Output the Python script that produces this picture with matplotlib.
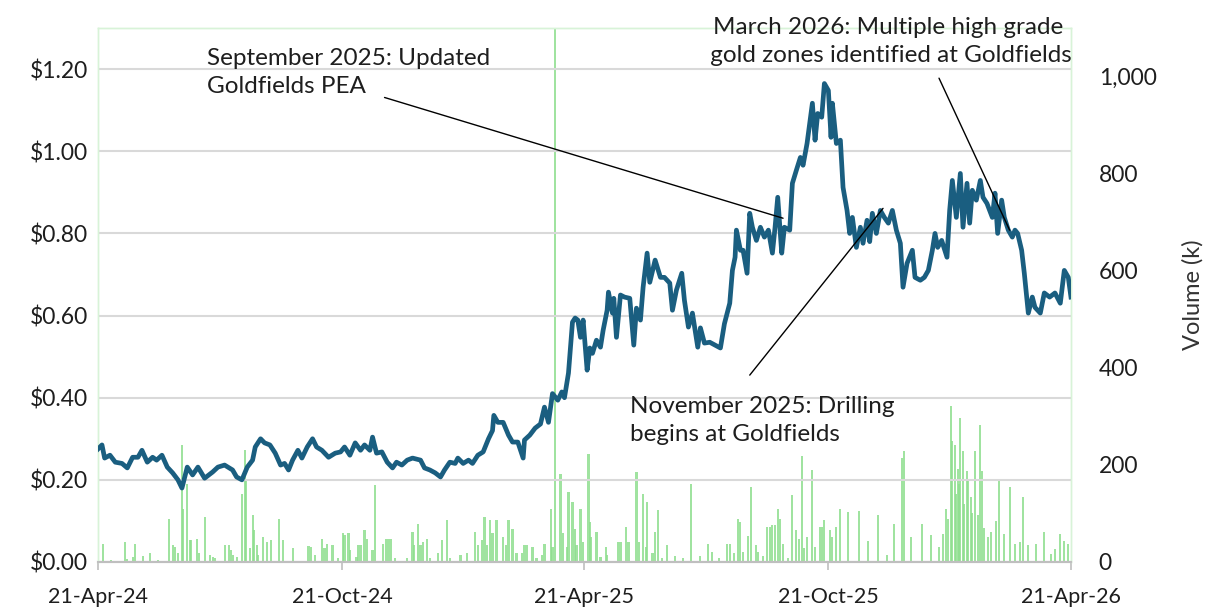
import matplotlib
matplotlib.use("Agg")
import matplotlib.pyplot as plt
import matplotlib.dates as mdates
import matplotlib.ticker as mticker
import pandas as pd
import numpy as np

plt.rcParams['font.family'] = ['Lato', 'DejaVu Sans']

START = pd.Timestamp("2024-04-21")
END = pd.Timestamp("2026-04-21")

# Share price: days since 21-Apr-24 and price ($)
price_days = [0, 3, 5, 9, 13, 18, 22, 26, 30, 33, 37, 41, 44, 48, 52, 56, 60, 63, 67, 71,
              75, 80, 86, 90, 95, 101, 104, 108, 112, 116, 118, 122, 125, 129, 133, 137, 140, 143, 146, 150,
              153, 157, 161, 164, 168, 173, 178, 182, 185, 189, 193, 197, 200, 204, 206, 209, 213, 217, 221, 224,
              228, 232, 236, 242, 245, 249, 253, 257, 260, 264, 268, 270, 274, 278, 281, 285, 289, 293, 296, 297,
              300, 304, 308, 311, 315, 319, 320, 324, 328, 332, 335, 338, 341, 345, 348, 350, 353, 356, 358, 360,
              362, 364, 367, 369, 371, 374, 377, 379, 382, 383, 386, 387, 389, 392, 395, 399, 402, 404, 407, 409,
              412, 414, 418, 422, 425, 429, 431, 434, 438, 440, 443, 446, 448, 450, 452, 455, 459, 463, 467, 470,
              474, 476, 478, 479, 482, 484, 487, 489, 491, 494, 497, 500, 503, 506, 508, 510, 513, 515, 519, 521,
              524, 527, 529, 532, 536, 538, 540, 543, 545, 548, 550, 551, 554, 557, 559, 562, 564, 566, 569, 572,
              574, 577, 579, 581, 584, 587, 590, 593, 596, 599, 602, 604, 607, 611, 613, 617, 620, 623, 626, 628,
              630, 633, 637, 639, 641, 644, 647, 649, 652, 654, 656, 659, 662, 664, 667, 671, 673, 675, 678, 680,
              683, 686, 688, 690, 693, 695, 698, 701, 703, 707, 710, 714, 718, 722, 725, 728, 730]
price = [0.275, 0.285, 0.253, 0.260, 0.243, 0.240, 0.229, 0.255, 0.255, 0.272, 0.243, 0.255, 0.248, 0.260, 0.231, 0.217, 0.200, 0.180, 0.231, 0.212,
         0.231, 0.204, 0.219, 0.231, 0.236, 0.224, 0.207, 0.200, 0.231, 0.248, 0.280, 0.300, 0.290, 0.285, 0.265, 0.236, 0.240, 0.224, 0.248, 0.272,
         0.253, 0.280, 0.300, 0.280, 0.272, 0.255, 0.265, 0.268, 0.280, 0.260, 0.290, 0.272, 0.285, 0.272, 0.304, 0.265, 0.268, 0.243, 0.229, 0.243,
         0.236, 0.248, 0.253, 0.248, 0.229, 0.224, 0.217, 0.207, 0.224, 0.243, 0.240, 0.253, 0.240, 0.248, 0.240, 0.260, 0.268, 0.300, 0.320, 0.357,
         0.340, 0.340, 0.309, 0.292, 0.292, 0.253, 0.297, 0.309, 0.326, 0.336, 0.377, 0.340, 0.410, 0.394, 0.414, 0.400, 0.460, 0.584, 0.594, 0.589,
         0.547, 0.589, 0.467, 0.521, 0.508, 0.540, 0.523, 0.564, 0.613, 0.657, 0.606, 0.642, 0.547, 0.650, 0.645, 0.642, 0.528, 0.618, 0.589, 0.669,
         0.752, 0.681, 0.735, 0.693, 0.693, 0.679, 0.613, 0.662, 0.703, 0.637, 0.572, 0.606, 0.564, 0.523, 0.570, 0.533, 0.535, 0.528, 0.521, 0.580,
         0.630, 0.710, 0.742, 0.808, 0.759, 0.759, 0.703, 0.849, 0.815, 0.783, 0.815, 0.791, 0.808, 0.752, 0.815, 0.888, 0.752, 0.815, 0.808, 0.922,
         0.954, 0.985, 0.966, 1.019, 1.117, 1.027, 1.092, 1.083, 1.165, 1.148, 1.034, 1.117, 1.019, 1.027, 0.912, 0.856, 0.800, 0.839, 0.766, 0.815,
         0.776, 0.832, 0.780, 0.849, 0.800, 0.856, 0.839, 0.825, 0.856, 0.808, 0.776, 0.669, 0.727, 0.759, 0.693, 0.686, 0.693, 0.710, 0.759, 0.800,
         0.766, 0.783, 0.742, 0.856, 0.929, 0.839, 0.946, 0.815, 0.922, 0.825, 0.905, 0.881, 0.929, 0.888, 0.873, 0.839, 0.898, 0.800, 0.881, 0.839,
         0.808, 0.791, 0.808, 0.800, 0.759, 0.703, 0.606, 0.645, 0.620, 0.606, 0.655, 0.645, 0.655, 0.630, 0.710, 0.693, 0.645]

# Volume (thousands): days since 21-Apr-24
vol_days = [4, 10, 20, 22, 26, 28, 34, 39, 45, 53, 56, 58, 60, 63, 64, 67, 69, 70, 74, 76,
            80, 84, 86, 88, 95, 98, 100, 101, 104, 108, 110, 111, 114, 116, 117, 119, 120, 124, 127, 130,
            136, 139, 146, 158, 160, 163, 168, 170, 172, 176, 180, 184, 185, 188, 189, 194, 195, 197, 200, 202,
            206, 208, 214, 216, 218, 220, 223, 232, 236, 237, 240, 242, 244, 247, 249, 255, 258, 262, 264, 272,
            277, 283, 285, 288, 290, 292, 294, 296, 299, 304, 306, 308, 311, 314, 318, 320, 322, 326, 329, 333,
            335, 340, 341, 343, 347, 349, 352, 353, 356, 358, 359, 362, 364, 368, 369, 370, 374, 377, 381, 382,
            390, 392, 396, 398, 404, 406, 409, 411, 412, 416, 418, 420, 423, 427, 433, 439, 445, 452, 458, 461,
            466, 472, 474, 477, 480, 482, 484, 488, 490, 494, 495, 499, 502, 504, 506, 508, 510, 512, 514, 518,
            521, 524, 526, 528, 530, 532, 536, 538, 542, 543, 545, 549, 551, 554, 557, 563, 571, 578, 585, 592,
            597, 603, 605, 610, 618, 625, 631, 634, 636, 638, 640, 641, 643, 644, 645, 646, 647, 649, 650, 652,
            653, 655, 656, 658, 660, 662, 663, 665, 668, 670, 674, 676, 680, 684, 688, 692, 694, 698, 704, 710,
            715, 718, 722, 725, 728]
volume = [38, 5, 42, 7, 11, 38, 12, 18, 5, 89, 35, 31, 18, 240, 110, 160, 45, 45, 48, 18,
          93, 14, 11, 8, 35, 35, 25, 14, 11, 140, 230, 170, 28, 96, 66, 35, 14, 52, 42, 45,
          89, 45, 28, 33, 31, 14, 48, 28, 38, 35, 8, 59, 55, 59, 25, 11, 35, 35, 66, 48,
          25, 158, 38, 48, 48, 48, 8, 8, 62, 35, 79, 35, 42, 48, 8, 18, 45, 86, 8, 14,
          18, 62, 35, 45, 93, 35, 86, 59, 86, 52, 35, 86, 69, 18, 18, 35, 35, 31, 8, 14,
          38, 110, 31, 1500, 182, 59, 31, 144, 124, 69, 35, 110, 42, 223, 83, 52, 62, 11, 30, 14,
          42, 42, 72, 42, 185, 42, 141, 31, 124, 18, 62, 108, 8, 35, 12, 8, 161, 12, 37, 21,
          8, 37, 37, 18, 89, 83, 21, 53, 154, 35, 21, 12, 72, 72, 76, 76, 110, 89, 37, 8,
          137, 66, 48, 219, 28, 52, 190, 31, 72, 72, 86, 66, 52, 72, 109, 102, 106, 44, 96, 14,
          79, 215, 229, 51, 79, 55, 31, 58, 110, 89, 321, 249, 242, 140, 191, 160, 297, 229, 120, 188,
          167, 133, 100, 229, 96, 283, 188, 70, 51, 61, 85, 171, 58, 154, 38, 41, 133, 34, 38, 61,
          17, 27, 58, 44, 38]

tick_dates = ["2024-04-21", "2024-10-21", "2025-04-21", "2025-10-21", "2026-04-21"]
price_ticks = [0.0, 0.2, 0.4, 0.6, 0.8, 1.0, 1.2]
volume_ticks = [0, 200, 400, 600, 800, 1000]

price_dates = [START + pd.Timedelta(days=d) for d in price_days]
vol_dates = [START + pd.Timedelta(days=d) for d in vol_days]

TXT = "#1e1e1e"

fig = plt.figure(figsize=(12.17, 6.10), dpi=100)
ax = fig.add_axes([0.0805, 0.0787, 0.7995, 0.8753])
ax2 = ax.twinx()
ax.set_zorder(ax2.get_zorder() + 1)
ax.patch.set_visible(False)

# volume bars (right axis)
ax2.bar(vol_dates, volume, width=1.6, color="#8fdf8f", linewidth=0, alpha=0.85)
ax2.set_ylim(0, 1100)
ax2.set_yticks(volume_ticks)
ax2.yaxis.set_major_formatter(mticker.FuncFormatter(lambda v, p: f"{int(v):,}"))
ax2.tick_params(axis='y', length=0, pad=20, labelsize=16.5, labelcolor=TXT)
ax2.set_ylabel("Volume (k)", fontsize=17, color="#333333", labelpad=18)

# price line (left axis)
ax.plot(price_dates, price, color="#1a5e80", lw=3.4, solid_joinstyle='round', zorder=3)
ax.set_ylim(0, 1.30)
ax.set_yticks(price_ticks)
ax.yaxis.set_major_formatter(mticker.FuncFormatter(lambda v, p: f"${v:.2f}"))
ax.tick_params(axis='y', length=0, pad=7, labelsize=16.5, labelcolor=TXT)
ax.grid(axis='y', color="#d9d9d9", lw=1.5)
ax.set_axisbelow(True)

ax.set_xlim(START, END)
ax.set_xticks([pd.Timestamp(d) for d in tick_dates])
ax.xaxis.set_major_formatter(mdates.DateFormatter("%d-%b-%y"))
ax.tick_params(axis='x', length=6, width=1.2, color="#bfbfbf", pad=12, labelsize=15.5, labelcolor=TXT)

for a in (ax, ax2):
    for s in ("left", "right", "top"):
        a.spines[s].set_color("#d8f3d8")
        a.spines[s].set_linewidth(1)
    a.spines["bottom"].set_color("#bfbfbf")
    a.spines["bottom"].set_linewidth(1.5)

def D(days):
    return START + pd.Timedelta(days=days)

line_kw = dict(arrowstyle='-', color='black', lw=1, shrinkA=0, shrinkB=0)
txt_kw = dict(fontsize=17.5, color=TXT, linespacing=1.42)

ax.annotate("", xy=(D(514), 0.837), xytext=(D(215), 1.131), arrowprops=line_kw)
ax.text(D(82), 1.252, "September 2025: Updated\nGoldfields PEA", ha='left', va='top', **txt_kw)

ax.annotate("", xy=(D(684), 0.808), xytext=(D(631), 1.178), arrowprops=line_kw)
ax.text(D(593), 1.327, "March 2026: Multiple high grade\n gold zones identified at Goldfields",
        ha='center', va='top', clip_on=False, **txt_kw)

ax.annotate("", xy=(D(589), 0.861), xytext=(D(489), 0.455), arrowprops=line_kw)
ax.text(D(399), 0.405, "November 2025: Drilling\nbegins at Goldfields", ha='left', va='top', **txt_kw)

fig.savefig("out.png", dpi=100)
